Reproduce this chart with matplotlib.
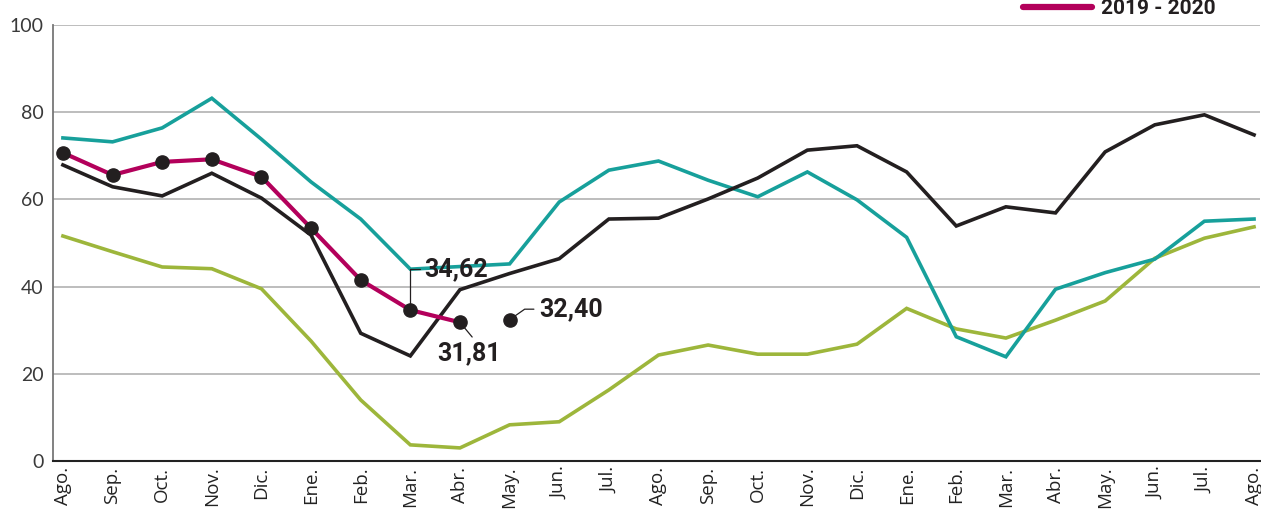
import matplotlib.pyplot as plt
import matplotlib.transforms as mtransforms
from matplotlib.lines import Line2D
import numpy as np

meses = ["Ago.", "Sep.", "Oct.", "Nov.", "Dic.", "Ene.", "Feb.", "Mar.", "Abr.", "May.",
         "Jun.", "Jul.", "Ago.", "Sep.", "Oct.", "Nov.", "Dic.", "Ene.", "Feb.", "Mar.",
         "Abr.", "May.", "Jun.", "Jul.", "Ago."]

turquesa = [74.1, 73.2, 76.4, 83.2, 73.8, 64.0, 55.5, 44.0, 44.6, 45.2, 59.4, 66.7, 68.8,
            64.4, 60.6, 66.3, 59.9, 51.3, 28.5, 23.9, 39.4, 43.2, 46.3, 55.0, 55.5]
negro = [67.9, 62.9, 60.8, 66.0, 60.3, 51.8, 29.3, 24.1, 39.3, 43.0, 46.4, 55.5, 55.7,
         60.1, 64.9, 71.3, 72.3, 66.3, 53.9, 58.3, 56.9, 70.9, 77.1, 79.4, 74.8]
verde = [51.6, 48.0, 44.5, 44.1, 39.5, 27.5, 14.0, 3.7, 3.0, 8.3, 9.0, 16.3, 24.3,
         26.6, 24.5, 24.5, 26.8, 35.0, 30.3, 28.2, 32.3, 36.7, 46.5, 51.1, 53.7]
actual = [70.7, 65.6, 68.6, 69.2, 65.2, 53.4, 41.5, 34.62, 31.81]
proyeccion_x = 9
proyeccion_y = 32.40

c_teal = "#17a09b"
c_black = "#231f20"
c_green = "#9db63b"
c_mag = "#b3005b"

fig = plt.figure(figsize=(12.61, 5.11), dpi=100)
ax = fig.add_axes([53 / 1261, 50 / 511, 1207 / 1261, 436 / 511])

x = np.arange(len(meses))
ax.plot(x, verde, color=c_green, lw=2.6, solid_joinstyle="miter", zorder=3)
ax.plot(x, turquesa, color=c_teal, lw=2.6, solid_joinstyle="miter", zorder=3)
ax.plot(x, negro, color=c_black, lw=2.6, solid_joinstyle="miter", zorder=4)
xa = np.arange(len(actual))
ax.plot(xa, actual, color=c_mag, lw=3.0, zorder=5)
ax.plot(xa, actual, "o", color=c_black, ms=9.5, zorder=6)
ax.plot([proyeccion_x], [proyeccion_y], "o", color=c_black, ms=9.5, zorder=6)

ax.set_xlim(-0.2, 24.12)
ax.set_ylim(0, 100)
ax.set_yticks([0, 20, 40, 60, 80, 100])
ax.set_xticks(x)
ax.set_xticklabels(meses, rotation=90, fontsize=13.5, family="Open Sans", color="#222222")
# the last label sits on the right edge, nudge it in a little
last = ax.get_xticklabels()[-1]
last.set_transform(last.get_transform() +
                   mtransforms.ScaledTranslation(-4 / 100, 0, fig.dpi_scale_trans))
for t in ax.get_yticklabels():
    t.set_family("Lato")
    t.set_fontsize(14)
    t.set_color("#3a3a3a")
ax.tick_params(axis="x", length=0, pad=4)
ax.tick_params(axis="y", length=0, pad=7)
ax.grid(axis="y", color="#b8b8b8", lw=1.3)
ax.set_axisbelow(True)
for s in ["top", "right"]:
    ax.spines[s].set_visible(False)
ax.spines["left"].set_color("#777777")
ax.spines["left"].set_linewidth(1.3)
ax.spines["bottom"].set_color("#222222")
ax.spines["bottom"].set_linewidth(1.5)

lbl = dict(family="Roboto", fontweight="bold", fontsize=18, color="#231f20")
ax.annotate(f"{actual[7]:.2f}".replace(".", ","), xy=(7, actual[7]),
            xytext=(10, 29.5), textcoords="offset points", ha="left", va="center",
            arrowprops=dict(arrowstyle="-", color="#231f20", lw=0.9, shrinkA=1, shrinkB=0,
                            relpos=(0, 0.5),
                            connectionstyle="angle,angleA=0,angleB=90,rad=0"),
            zorder=7, **lbl)
ax.annotate(f"{actual[8]:.2f}".replace(".", ","), xy=(8, actual[8]),
            xytext=(6.5, -22), textcoords="offset points", ha="center", va="center",
            arrowprops=dict(arrowstyle="-", color="#231f20", lw=0.9, shrinkA=1, shrinkB=0,
                            relpos=(0.6, 1.0)),
            zorder=7, **lbl)
ax.annotate(f"{proyeccion_y:.2f}".replace(".", ","), xy=(proyeccion_x, proyeccion_y),
            xytext=(21.5, 7.6), textcoords="offset points", ha="left", va="center",
            arrowprops=dict(arrowstyle="-", color="#231f20", lw=0.9, shrinkA=2, shrinkB=5,
                            relpos=(0, 0.5),
                            connectionstyle="angle,angleA=0,angleB=35,rad=0"),
            zorder=7, **lbl)

handle = Line2D([], [], color=c_mag, lw=4.5, solid_capstyle="round")
fig.legend([handle], ["2019 - 2020"], loc="center left",
           bbox_to_anchor=(1023 / 1261, 1 - 9 / 511), frameon=False,
           borderpad=0, borderaxespad=0, handlelength=3.3, handletextpad=0.45,
           prop=dict(family="Roboto", weight="bold", size=15))
for t in fig.legends[0].get_texts():
    t.set_color("#231f20")

fig.savefig("out.png", dpi=100)
